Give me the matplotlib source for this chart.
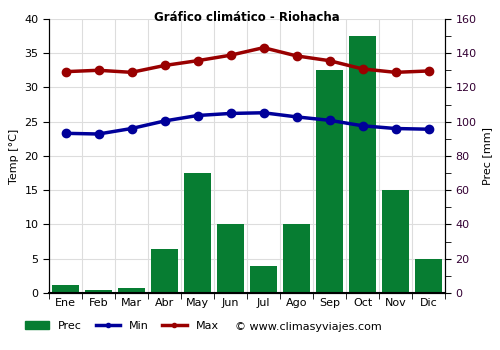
import numpy as np
import matplotlib.pyplot as plt
from matplotlib.lines import Line2D
from matplotlib.patches import Patch

months = ["Ene", "Feb", "Mar", "Abr", "May", "Jun", "Jul", "Ago", "Sep", "Oct", "Nov", "Dic"]
prec = [4.5, 2, 3, 25.5, 70, 40, 15.5, 40, 130, 150, 60, 20]  # mm
t_min = [23.3, 23.2, 24.0, 25.1, 25.9, 26.2, 26.3, 25.7, 25.2, 24.4, 24.0, 23.9]
t_max = [32.3, 32.5, 32.2, 33.2, 33.9, 34.7, 35.8, 34.6, 33.9, 32.7, 32.2, 32.4]

green = "#077d32"
blue = "#00009a"
red = "#990000"

fig = plt.figure(figsize=(5, 3.5), dpi=100)
ax = fig.add_axes([0.098, 0.163, 0.792, 0.783])
ax2 = ax.twinx()

x = np.arange(len(months))

ax2.bar(x, prec, width=0.8, color=green, zorder=2)
ax2.set_ylim(0, 160)
ax2.set_yticks(np.arange(0, 161, 20))
ax2.set_yticks(np.arange(0, 161, 10), minor=True)
ax2.set_ylabel("Prec [mm]", fontsize=8)
ax2.tick_params(axis="y", labelsize=8, labelcolor="#330033", length=4)
ax2.tick_params(axis="y", which="minor", length=4)

ax.set_zorder(ax2.get_zorder() + 1)
ax.patch.set_visible(False)
ax2.patch.set_visible(True)
ax2.patch.set_facecolor("white")
ax.plot(x, t_min, color=blue, lw=2.5, marker="o", ms=6, zorder=3)
ax.plot(x, t_max, color=red, lw=2.5, marker="o", ms=6, zorder=3)
ax.set_ylim(0, 40)
ax.set_xlim(-0.5, 11.5)
ax.set_yticks(np.arange(0, 41, 5))
ax.set_xticks(x)
ax.set_xticklabels(months)
ax.set_ylabel("Temp [°C]", fontsize=8)
ax.tick_params(axis="both", labelsize=8, length=4)

# grid drawn on the bar axes so it sits behind the bars
for b in np.arange(0.5, 11.5, 1):
    ax2.axvline(b, color="#dddddd", lw=0.8, zorder=1)
for v in np.arange(20, 161, 20):
    ax2.axhline(v, color="#dddddd", lw=0.8, zorder=1)
ax.set_xticks(np.arange(-0.5, 12, 1), minor=True)
ax.tick_params(axis="x", which="major", length=0)
ax.tick_params(axis="x", which="minor", length=4)

for a in (ax, ax2):
    a.spines["top"].set_visible(False)
ax.spines["bottom"].set_linewidth(1.5)

fig.text(0.494, 0.951, "Gráfico climático - Riohacha", fontsize=8.5, fontweight="bold",
         ha="center", va="center")

handles = [Patch(color=green),
           Line2D([], [], color=blue, lw=2.5, marker="o", ms=3),
           Line2D([], [], color=red, lw=2.5, marker="o", ms=3)]
fig.legend(handles, ["Prec", "Min", "Max"], loc="lower left", bbox_to_anchor=(0.03, 0.025),
           ncol=3, frameon=False, fontsize=8, handlelength=2.2, columnspacing=1.2)
fig.text(0.47, 0.058, "© www.climasyviajes.com", fontsize=8)

fig.savefig("out.png")
